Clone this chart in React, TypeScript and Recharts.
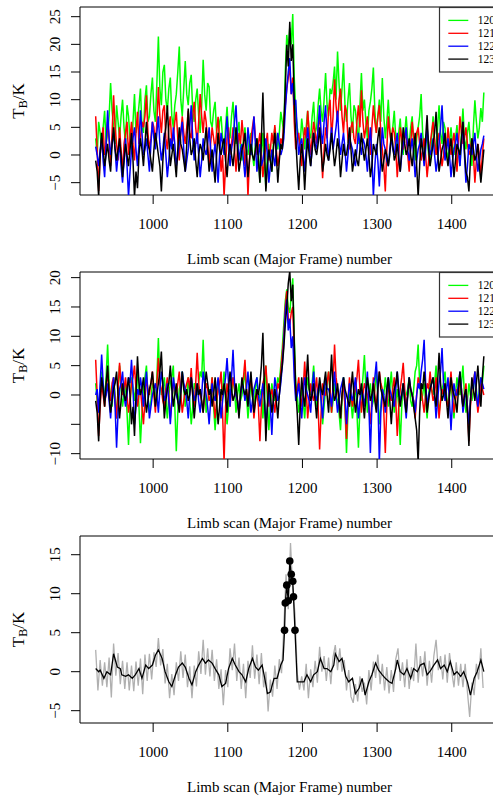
import React from 'react';
import { LineChart, Line, XAxis, YAxis, ReferenceArea, Legend } from 'recharts';

// ---------- categories / ticks ----------
// limb scans sampled every 2nd major frame for the channel panels
const FRAMES = Array.from({ length: 261 }, (_, i) => 923 + 2 * i);
// raw (grey) trace sampled every 3rd major frame
const RAW_FRAMES = Array.from({ length: 174 }, (_, i) => 923 + 3 * i);
const X_TICKS = [1000, 1100, 1200, 1300, 1400];
const Y_TICKS_1 = [-5, 0, 5, 10, 15, 20, 25];
const Y_TICKS_2 = [-10, -5, 0, 5, 10, 15, 20];
const Y_TICKS_3 = [-5, 0, 5, 10, 15];
const CHANNELS = ['120', '121', '122', '123'];

// ---------- panel 1 ----------
const P1_120 = [
  3, 0, 6, 4, 1, 5, 8, 2, 4, 7, 13, 8, 5, 2, 9, 6, 3, 7, 10, 5,
  2, 9, 7, 3, 1, 6, 11, 4, 6, 9, 12, 5, 4, 10, 12.6, 6, 7, 11, 14, 8,
  6, 13, 21.4, 12, 9, 15, 16.3, 10, 8, 12, 14, 7, 5, 9, 11, 15, 19.6, 10, 7, 12,
  17, 11, 9, 13, 14.5, 8, 6, 10, 12, 7, 4, 9, 17.2, 11, 8, 13, 12.3, 6, 5, 8,
  9.6, 4, 2, 6, 7, 3, 1, 5, 8.7, 4, 3, 7, 9.6, 5, 2, 4, 6, 1, -1, 3,
  5, 1, 0, 3, 4, 0, -2, 2, 3, 1, -5, 0, 4, -1, -6, 0, 2, -1, -3, 2,
  5, 3, 1, 4, 7.8, 6, 4, 15, 21.7, 19, 23, 20, 25.5, 14, 8, 5, 3, 2, 6.6, 4,
  1, 5, 8, 4, 3, 7, 9.6, 4, 5, 9, 12, 8, 6, 10, 14.8, 9, 7, 12, 11, 13,
  16, 10, 18.7, 13, 8, 12, 16.6, 9, 6, 10, 13, 7, 4, 9, 8, 5, 2, 9, 14.8, 8,
  10, 6, 3, 8, 9.6, 12, 15.8, 8, 4, 7, 10, 6, 13.9, 7, 3, 6, 10, 5, 2, 5,
  8, 3, 1, 4, 6.6, 2, 0, 4, 7, 3, 2, 5, 7, 2, -1, 3, 5, 7, 11, 4,
  1, 3, 4, 0, -2, 3, 7, 2, 0, 5, 9, 4, 2, 6, 4.8, 1, -1, 2, 5, 2,
  0, 3, 5.4, 1, -2, 4, 8.4, 3, 1, 4, 6, 2, -2, 5, 9.9, 6, 3, 5, 8.5, 6,
  11.3,
];
const P1_121 = [
  7, 1, -6.5, 0, 3, 5, 0, 2, 6, 3, -2, 4, 10.8, 5, 2, -1, 5, 1, -3, 2,
  4, 6, 0, 3, 6, 2, -1, 4, 7.8, 2, 3, 6, 5, 7, 10.8, 4, 1, 3, 6, 5,
  2, 6, 12.3, 7, 4, 8, 9, 3, 1, 5, 7, 2, 3, 6, 7.8, 3, -1, 4, 7, 4,
  2, 5, 8, 4, 3, 7, 9.6, 5, 2, 6, 11, 7, 4, 8, 6, 2, -2, 2, 5, 3,
  1, 4, 6.9, 2, -3, 0, -7.5, -2, 3, 5, 0, 2, 5, 1, -3, 1, 4, 2, 6.3, 3,
  -2, 1, -7.5, -1, 3, 5, 6.9, 3, 0, 2, 4, 0, -4, -1, 2, 4, -1, 1, 4, 2,
  5.4, 1, -2, 0, 3, 2, 6, 9, 12, 14, 16, 11, 14, 6, 1, 3, 4, 1, -2, 2,
  5, 3, 8, 4, 0, 3, 6, 4, 2, 5, 7.5, 2, -4.2, 1, 5, 3, 8, 10, 3, 7,
  13.7, 9, 6, 10, 12, 7, 4, 9, 7.8, 3, 1, 5, 6, 3, 2, 6, 9, 5, 11.7, 6,
  3, 5, 7, 3, 0, 5, 9, 6, 4, 7, 9, 4, 1, -2, -6.6, 1, 7, 4, 2, 5,
  4, 1, -4, 0, 5, 3, 1, 4, 3, 0, -3, 2, 6, 3, 2, 4, 5, 2, -1, 1,
  3, 0, -4, -1, 2, 4, 6, 3, 0, 2, 4, 1, -2, 0, 3, 1, 5, 2, 0, 2,
  4, 1, -3, 2, 7, 4, 2, 3, 5, 2, 0, 1, 3, 0, -5, -1, 2, 0, -4, 0,
  3,
];
const P1_122 = [
  1.5, 0, -2, 1, 3, -1, -4, 2, 8.1, 3, 0, 2, 4, 1, -3, 0, 2, -2, -5, -1,
  3, -2, -7.5, -3, 1, 3, 5, 1, -2, 2, 8.1, 4, 0, 1, 3, 0, -3, 2, 6, 3,
  1, 4, 7, 2, -1, 1, 4, 0, -4, -1, 3, 1, 5, 2, -2, 0, 2, 4, 6, 1,
  -3, -1, 1, 5, 9, 3, -1, 2, 4, 0, -4, -1, 3, 1, 0, 2, 5, 1, -3, 0,
  2, -1, -5, 0, 4, 2, 0, 3, 7, 2, -2, 1, 3, 6, 9, 3, -1, 1, 2, -1,
  -4, 0, 5, 2, 0, 3, 7, 2, -3, 0, 2, -2, -1, 1, 3, 0, -5, -2, 1, 0,
  -2, 1, 4, 2, 0, 1, 3, 8, 12, 15, 17.5, 11, 13, 9, 10, 4, 0, 2, 3, 0,
  -3, 1, 5, 2, -2, 1, 4, 2, 1, 5, 9, 4, 2, 6, 9, 3, -1, 2, 5, 1,
  3, 5, 8, 3, 0, 2, 4, 1, -3, 0, 3, 2, 1, -1, -2, 1, 4, 2, 0, 3,
  2, 0, -3, 1, 5, 0, -7.5, -2, 2, -1, -5.7, 0, 5, 2, 1, -1, -2, 1, 3, 1,
  0, 2, 4, 0, -3, 0, 2, 3, 5, 1, -1, 1, 3, 0, -4, -1, 1, 2, 4, 1,
  -2, 1, 5, 2, 0, 1, 3, 0, -3, -1, 2, 5, 9, 3, -1, 1, 3, 0, -4, -1,
  1, 2, 4, 1, -2, 2, 6, 0, -5, -2, 2, 1, 0, 2, 4, 0, -3, -1, 1, 2,
  3.5,
];
const P1_123 = [
  -1, -3, -7.5, 0, 4, 1, -2, 0, 2, -1, -3, 2, 5, 1, -1, 1, 3, 0, -4, -1,
  2, 0, -2, 1, 4, -1, -7.5, -3, -6, 0, 3, 1, -2, 2, 6, 2, 1, -1, -3, 1,
  4, 2, 0, -2, -6.6, -1, 3, 5, 9, 3, -2, 0, 2, -1, -4, 1, 5, 2, 1, -1,
  -3, 2, 8.4, 3, 0, 1, 3, -1, -4, 0, 2, 1, -1, 2, 5, 1, -3, -1, 1, -2,
  -5, 0, 4, 1, 0, 2, 3, -1, -4, 0, 2, 0, -2, 1, 5, 1, -3, -1, 1, 2,
  4, 0, -4, -1, 2, 0, -1, 1, 3, -1, -5, 3, 11.3, 2, -6.6, -2, 1, -1, -3, 1,
  4, 0, -5, -1, 2, 1, 5, 12, 19.9, 16, 24.1, 17, 20, 10, 3, -2, -6.3, -1, 2, -1,
  -6.3, -1, 3, 0, -2, 1, 4, 1, 0, 2, 5, 1, -3, -1, 2, 0, -1, 1, 4, 1,
  -2, 0, 3, 1, -4, -1, 2, 0, 0, 2, 5, 1, -3, -1, 1, -1, -2, 1, 4, 1,
  -1, 1, 3, 0, -4, -2, 2, 1, 0, 3, 5, 0, -3, -1, 1, 0, -2, 0, 4, 2,
  -1, 0, 2, -1, -3, 1, 5, 2, 0, 1, 3, 0, -2, 1, 4, -2, -7.5, -2, 3, 1,
  -1, 3, 7.2, 1, -2, 0, 2, 4, 7.8, 1, -3, -1, 1, 2, 4, 0, -2, 1, 3, 0,
  -4, -1, 2, 1, 0, 3, 6, 1, -3, -4, -6.6, -1, 3, 1, -1, 0, 2, -2, -5, -2,
  1,
];

// ---------- panel 2 ----------
const P2_120 = [
  2, -1, -3, 1, 4, 2, -1, 3, 8.6, 2, 0, -2, 3, 0, -4, 1, 5, 1, -2, 0,
  2, -3, -8.5, -2, 3, 1, -1, 2, 4, -2, -8.2, -3, 1, 3, 5, 0, -3, -1, 2, 1,
  -1, 3, 9.7, 2, 0, 1, 3, -1, -4, 0, 2, 3, 5, -2, -9.6, -3, 1, 2, 4, 1,
  -2, 0, 3, -1, -5, -2, 2, 1, 0, 2, 4, 3, 9.4, 2, -3, -1, 1, 0, 3, -2,
  -6, -2, 2, 0, -1, 1, 4, -1, -5, -2, 1, 0, 3, 1, -3, 0, 2, -1, 0, 2,
  4, 0, -4, -1, 2, 0, -2, 1, 3, -1, 0, 1, -4, 0, 5, -1, -6, -2, 2, 0,
  -1, 1, 3, 2, 5, 8, 12, 16, 18, 15, 14, 17, 19.9, 10, 2, 0, -3, -1, 1, -1,
  -4, 0, 3, 1, 0, 2, 5, 1, -2, 0, 2, -1, -5, -2, 1, 2, 4, 0, -3, -1,
  2, 0, -1, -3, -6, -1, 3, -2, -9.9, -3, 1, -1, -4, -1, 2, -3, -9, -2, 0, 3,
  6.8, 1, -3, 0, 2, -2, -1, 1, 4, 0, -5, -2, 1, 0, 3, 0, -2, 1, 4, 0,
  -3, -1, 1, -2, -8.5, -2, 2, 0, 0, 1, 3, -1, -2, 1, 4, 5, 8.6, 2, -1, 0,
  2, -1, -4, 0, 3, 1, 0, 2, 5, 0, -3, -1, 1, 2, 4, 0, -2, 0, 2, -1,
  -4, 0, 3, 1, 0, 2, 5, 0, -3, -1, 2, 0, -1, 1, 4, 1, -2, 0, 3, 2,
  5,
];
const P2_121 = [
  6, 0, -7, -2, 2, 0, -2, 1, 4, 1, -1, 2, 3, -1, -4, 1, 5.5, 2, 0, 1,
  3, 0, -3, -1, 2, 3, 5, 1, -2, 0, 1, -2, -5, -1, 3, 1, 0, 2, 4, 0,
  -3, 2, 6.3, 2, 1, -1, -2, 1, 3, 0, -4, -1, 2, 1, 0, 2, 4, 0, -3, -1,
  1, 2, 3, 1, 4.6, 0, -2, 2, 7.2, 2, 0, -1, -3, 0, 2, 1, -1, 0, 3, -1,
  -4, -1, 1, 2, 4, -3, -11.5, -2, 2, 0, -2, 1, 3, 1, 0, -1, -3, 0, 2, 3,
  6, 1, -1, 1, 3, 0, -4, -1, 1, -2, -7.9, -2, 2, 3, 5, 1, -2, 0, 1, -1,
  -3, 0, 2, 1, 4, 7, 10, 15, 17.7, 13, 12, 14, 15, 7, 0, 1, 3, 0, -2, 1,
  5.7, 1, -4, -1, 2, 0, -1, 1, 3, -2, -9.3, -3, 2, 0, 0, 2, 4, 1, -3, 2,
  8.6, 3, 1, -1, -4, 0, 2, -2, -7.5, -1, 3, 0, -2, 0, 1, 3, 6, 1, -3, 0,
  2, 1, 0, -2, -5, -1, 3, 0, -2, 1, 4, 2, 1, -3, -9.9, -2, 2, 0, -1, 1,
  3, -1, -7, -2, 1, 3, 5.5, 1, -2, 0, 2, 1, 0, -1, -4, 0, 3, 2, 1, -1,
  -3, 0, 2, 1, 4, 1, -1, 0, 3, 0, -4, -1, 1, 0, 2, -1, -2, 1, 4, 0,
  -3, -1, 1, 0, 3, 1, -2, 0, 2, -2, -7.9, -2, 1, 2, 4, 0, -3, -1, 2, 1,
  0,
];
const P2_122 = [
  0, 1, -3, 2, 6.9, 2, -1, 0, 2, -1, -4, 0, 3, -2, -9, -3, 1, 2, 4, 0,
  -2, 0, 3, 2, 6, 1, -5, -2, 1, 0, 3, 1, -2, 1, 4, 0, -4, -2, 0, 1,
  2, 0, -3, 1, 4, 2, -1, 0, 2, -1, -5, -1, 3, 1, 0, -1, -2, 1, 4, 2,
  1, -1, -4, 0, 3, 1, -1, 0, 2, -1, -3, 0, 4, 2, 0, -2, -5, -1, 2, 0,
  -1, 1, 3, 0, -4, -1, 1, 3, 6.3, 2, -2, 3, 7.7, 2, 0, -1, -3, 0, 2, 1,
  -1, 1, 4, 0, -3, -1, 1, 2, 3, 0, -2, 0, 2, -1, -5, -2, 1, -2, -6.8, -1,
  3, 1, -1, 0, 2, 5, 9, 14, 16.3, 11, 13, 8, 10, 3, -1, 0, 2, -1, -4, 0,
  3, 1, 0, -1, -3, 1, 4, 0, -1, 1, 2, -1, -4, 0, 3, 1, 1, 0, -2, 1,
  4, 0, -3, -1, 1, 2, 3, 0, -5, -1, 2, 0, -1, 1, 3, 0, -4, -1, 1, 0,
  -2, 1, 4, -2, -9.9, -2, 2, 3, 5.7, 0, -11.5, -3, 1, 0, -3, 0, 3, 1, 0, -1,
  -2, 1, 4, 1, -1, 0, 2, -1, -4, 0, 3, 1, 0, -1, -3, 0, 2, 1, 4, 6,
  9.4, 2, -2, 0, 1, 2, 3, 0, -4, -1, 2, 4, 8, 2, -1, 1, 3, -1, -6, -1,
  2, 0, 0, 2, 4, 1, -3, -1, 1, -2, -5, -1, 2, 1, 4, 0, -2, 1, 3, 2,
  1,
];
const P2_123 = [
  -1, -3, -7.9, -1, 3, 1, -2, 2, 5, 0, -3, -1, 1, 2, 4, 0, -4, -1, 2, 0,
  -1, 1, 3, 0, -5, -2, -7, 0, 6.6, 2, 0, 1, 3, 0, -3, -1, 1, 2, 4, 1,
  -2, 0, 2, 4, 7.4, 1, -4, -1, 1, 2, 5, 1, -2, 0, 2, -1, -3, 0, 4, 1,
  0, 1, -1, 0, 3, 0, -4, -1, 2, 0, 1, -1, -3, 1, 4, 2, 0, 1, -2, 0,
  3, -1, -5, -2, 1, 0, 2, 0, -3, 1, 4, 1, -1, 0, 2, -1, -4, 0, 3, 1,
  0, 1, -2, 1, 4, 0, -3, -1, 1, 0, 2, 5, 10.6, 1, -7.9, -2, 2, 0, -3, -1,
  1, -1, -4, 0, 3, 5, 8, 12, 15, 19, 21.1, 16, 18.8, 9, 1, -3, -8.5, -2, 3, 0,
  -2, 2, 6.9, 1, -1, 0, 2, -1, -4, 0, 3, 1, 0, 2, 4, 0, -3, 2, 6.9, 1,
  -1, 0, 2, -1, -4, 0, 3, 1, 0, -1, -2, 1, 4, 0, -3, -1, 1, 0, 2, -1,
  -4, 0, 3, 1, -1, 0, 2, -1, -3, 1, 4, 1, 0, -1, -2, 1, 3, -1, -5, -1,
  1, 2, 4, 0, -2, 0, 2, -1, -3, 0, 3, 1, 0, -2, -4, -6, -11.5, -3, 2, 1,
  4, 1, -3, -1, 1, 2, 3, 0, -2, 2, 7.2, 2, -1, 0, 2, -1, -4, 0, 3, 1,
  0, -1, -3, 1, 4, 0, -2, 0, 1, -3, -8.7, -1, 3, 1, -1, 2, 5, 1, -2, 3,
  6.6,
];

// ---------- panel 3 ----------
const RAW_VALUES = [
  2.8, -2.4, 1.5, -1.8, 1.2, -2.0, 1.8, -3.3, 3.6, -0.5,
  2.4, -1.6, 1.4, -2.2, 1.2, -2.4, 0.8, -2.5, 1.3, -1.8,
  1.7, -2.9, 2.2, -1.2, 2.3, -1.0, 2.5, 0.6, 4.3, 0.8,
  2.9, -1.5, 1.0, -3.4, -0.3, -3.0, 1.2, -1.2, 2.6, -0.8,
  2.2, -2.0, 0.7, -3.4, 0.8, -1.9, 2.6, -0.3, 4.1, -0.4,
  3.0, -0.6, 2.8, -1.2, 1.6, -2.2, 0.3, -4.3, 0.2, -2.0,
  3.0, 0.2, 3.6, -1.2, 1.8, -2.2, 1.0, -3.4, 1.4, -0.8,
  3.4, -0.9, 2.2, -1.6, 2.4, -2.0, 0.0, -5.1, -1.0, -3.2,
  0.8, -2.2, 1.6, -0.2, 5.5, 12.5, 8.0, 16.5, 10.5, 7.5,
  -0.2, -2.3, -0.6, -2.4, 1.0, -3.4, 0.3, -2.0, 1.4, -1.4,
  3.2, 0.0, 2.0, -1.2, 1.8, -1.6, 1.9, 3.4, 0.2, 3.0,
  0.0, 1.5, -2.4, 0.2, -3.2, -4.0, -1.6, -3.8, -0.6, -2.6,
  -1.4, -4.2, 0.2, -2.4, 1.3, -0.8, 2.2, -1.6, 1.0, -2.4,
  0.6, -2.8, 0.2, -2.6, 1.6, 3.0, -1.2, 1.2, -2.0, 1.6,
  -2.2, 0.6, -1.2, 3.6, -1.4, 2.0, -0.6, 2.6, -1.8, 1.4,
  -1.4, 2.0, 4.1, 0.2, 2.0, -1.0, 2.2, -1.4, 2.4, 0.0,
  -2.0, 1.2, -1.8, 1.0, -2.0, 1.0, -2.6, -5.8, -1.4, -3.0,
  1.0, -1.0, 3.0, -2.1,
];
const SMOOTH_FRAMES = [
  923, 927, 929, 934, 938, 943, 947, 952, 956, 958,
  963, 967, 972, 976, 981, 985, 990, 994, 999, 1003,
  1007, 1012, 1016, 1021, 1025, 1030, 1034, 1039, 1043, 1048,
  1052, 1057, 1061, 1066, 1070, 1074, 1079, 1083, 1088, 1092,
  1097, 1101, 1106, 1110, 1115, 1119, 1124, 1128, 1133, 1137,
  1141, 1146, 1150, 1153, 1157, 1162, 1166, 1171, 1174, 1176,
  1177, 1179, 1181, 1183, 1185, 1187, 1188, 1190, 1193, 1197,
  1202, 1206, 1211, 1215, 1220, 1224, 1229, 1233, 1238, 1242,
  1244, 1249, 1253, 1258, 1262, 1267, 1271, 1276, 1280, 1284,
  1289, 1293, 1298, 1302, 1307, 1311, 1316, 1320, 1325, 1327,
  1331, 1336, 1340, 1345, 1349, 1354, 1358, 1363, 1367, 1372,
  1376, 1381, 1385, 1390, 1394, 1398, 1403, 1407, 1412, 1416,
  1421, 1425, 1430, 1434, 1439, 1443,
];
const SMOOTH_VALUES = [
  0.4, 0, 0.2, -0.85, 0, -0.4, 2.3, 0.6, 0.4, -0.4,
  -0.6, -0.4, -0.85, -0.4, 0.4, -0.85, 0.85, 0.4, 0.85, 2.1,
  2.8, 1.7, 0, -1.3, -1.9, -0.4, 0.6, 1.1, 0.6, -0.85,
  -1.7, 0, 0.85, 1.7, 1.1, 1.5, 1.1, 0.4, -0.4, -1.9,
  -1.5, 0.4, 1.7, 0.85, 0, -0.4, -1.3, 0.4, 1.7, 0.6,
  0.2, 0.85, -1.1, -2.8, -2.6, -0.85, -0.85, 0.85, 1.5, 5.3,
  8.8, 11.1, 9.1, 14.2, 12.5, 11.6, 9.6, 5.3, -1.3, -1.3,
  -1.3, -0.4, -1.3, -0.4, 0, 1.7, 0.4, 0.4, 0, 0.85,
  2.3, 1.3, 1.7, -0.6, -1.3, -0.85, -2.8, -2.1, -0.85, -3.0,
  -1.3, -0.4, 1.1, 0.2, -0.4, -0.85, -1.3, -1.5, 0.4, 1.5,
  0, -0.4, 0.4, -0.85, 0.4, 0, 0.85, 1.1, -0.4, 0.2,
  0.85, 1.5, 0.4, 0.85, 0, 1.3, -0.4, 0, -0.6, 0,
  -1.3, -3, -0.85, 0, 1.5, 0,
];
const DOT_FRAMES = [1176, 1177, 1179, 1181, 1183, 1185, 1187, 1188, 1190];
const DOT_VALUES = [5.3, 8.8, 11.1, 9.1, 14.2, 12.5, 11.6, 9.6, 5.3];

// ---------- tables built from the arrays ----------
const panel1Data = FRAMES.map((f, i) => ({ frame: f, c120: P1_120[i], c121: P1_121[i], c122: P1_122[i], c123: P1_123[i] }));
const panel2Data = FRAMES.map((f, i) => ({ frame: f, c120: P2_120[i], c121: P2_121[i], c122: P2_122[i], c123: P2_123[i] }));
const rawData = RAW_FRAMES.map((f, i) => ({ frame: f, v: RAW_VALUES[i] }));
const smoothData = SMOOTH_FRAMES.map((f, i) => ({ frame: f, v: SMOOTH_VALUES[i] }));
const dotData = DOT_FRAMES.map((f, i) => ({ frame: f, v: DOT_VALUES[i] }));

// ---------- styling ----------
const FONT = "'Liberation Serif', 'Times New Roman', Times, serif";
const CHART_W = 520;
const MARGIN = { top: 7, right: 21, left: 0, bottom: 0 };
const Y_AXIS_W = 80;
const X_AXIS_H = 80;
const X_DOMAIN: [number, number] = [902, 1463.3];
const COLORS = ['#00ff00', '#ff0000', '#0000ff', '#000000'];
const LINE_W = 1.5;

const fmt = (v: number) => (v < 0 ? '\u2212' + Math.abs(v) : String(v));

const xTick = (props: any) => {
  const { x, y, payload } = props;
  return (
    <text x={x} y={y + 25} textAnchor="middle" fontSize={15} fontFamily={FONT} fill="#000">
      {payload.value}
    </text>
  );
};

const makeYTick = (hidden: number[]) => (props: any) => {
  const { x, y, payload } = props;
  if (hidden.includes(payload.value)) return <g />;
  const bx = x - 11;
  return (
    <text x={bx} y={y} transform={`rotate(-90 ${bx} ${y})`} textAnchor="middle" fontSize={15} fontFamily={FONT} fill="#000">
      {fmt(payload.value)}
    </text>
  );
};

const makeXTitle = (plotH: number) => () => (
  <text x={MARGIN.left + Y_AXIS_W + (CHART_W - MARGIN.right - Y_AXIS_W) / 2} y={MARGIN.top + plotH + 69} textAnchor="middle" fontSize={15} fontFamily={FONT} fill="#000">
    Limb scan (Major Frame) number
  </text>
);

const makeYTitle = (plotH: number) => () => {
  const cy = MARGIN.top + plotH / 2;
  return (
    <text x={24} y={cy} transform={`rotate(-90 24 ${cy})`} textAnchor="middle" fontSize={17} fontFamily={FONT} fill="#000">
      T<tspan fontSize={12} dy={3}>B</tspan>
      <tspan fontSize={17} dy={-3}>/K</tspan>
    </text>
  );
};

const renderLegend = (props: any) => {
  const payload = props.payload || [];
  return (
    <svg width={81} height={66} style={{ display: 'block', overflow: 'visible' }}>
      <rect x={0.5} y={0.5} width={120} height={64.5} fill="#fff" stroke="#333" strokeWidth={1.2} />
      {payload.map((p: any, i: number) => {
        const cy = 13.4 + 12.9 * i;
        return (
          <g key={i}>
            <line x1={9.3} x2={29.3} y1={cy} y2={cy} stroke={p.color} strokeWidth={1.3} />
            <text x={38.7} y={cy + 4} fontSize={11.5} fontFamily={FONT} fill="#000">
              {p.value}
            </text>
          </g>
        );
      })}
    </svg>
  );
};

function ChannelPanel({ top, plotH, data, yDomain, yTicks, hiddenY }: any) {
  return (
    <div style={{ position: 'absolute', left: 0, top }}>
      <LineChart width={CHART_W} height={MARGIN.top + plotH + X_AXIS_H} data={data} margin={MARGIN}>
        <XAxis
          dataKey="frame"
          type="number"
          domain={X_DOMAIN}
          ticks={X_TICKS}
          allowDataOverflow
          axisLine={false}
          tickLine={{ stroke: '#000' }}
          tickSize={9}
          tickMargin={0}
          tick={xTick}
          height={X_AXIS_H}
          interval={0}
          label={{ content: makeXTitle(plotH) }}
        />
        <YAxis
          type="number"
          domain={yDomain}
          ticks={yTicks}
          allowDataOverflow
          axisLine={false}
          tickLine={{ stroke: '#000' }}
          tickSize={9}
          tickMargin={0}
          tick={makeYTick(hiddenY)}
          width={Y_AXIS_W}
          interval={0}
          label={{ content: makeYTitle(plotH) }}
        />
        {CHANNELS.map((c, i) => (
          <Line
            key={c}
            type="linear"
            dataKey={'c' + c}
            name={c}
            stroke={COLORS[i]}
            strokeWidth={LINE_W}
            dot={false}
            activeDot={false}
            isAnimationActive={false}
          />
        ))}
        <ReferenceArea x1={X_DOMAIN[0]} x2={X_DOMAIN[1]} y1={yDomain[0]} y2={yDomain[1]} fill="none" fillOpacity={0} stroke="#000" strokeWidth={1} ifOverflow="visible" />
        <Legend
          content={renderLegend}
          layout="horizontal"
          verticalAlign="middle"
          align="center"
          wrapperStyle={{ position: 'absolute', left: 439, top: 7, width: 81, height: 66 }}
        />
      </LineChart>
    </div>
  );
}

function AveragePanel({ top, plotH, yDomain }: any) {
  return (
    <div style={{ position: 'absolute', left: 0, top }}>
      <LineChart width={CHART_W} height={MARGIN.top + plotH + X_AXIS_H} margin={MARGIN}>
        <XAxis
          dataKey="frame"
          type="number"
          domain={X_DOMAIN}
          ticks={X_TICKS}
          allowDataOverflow
          axisLine={false}
          tickLine={{ stroke: '#000' }}
          tickSize={9}
          tickMargin={0}
          tick={xTick}
          height={X_AXIS_H}
          interval={0}
          label={{ content: makeXTitle(plotH) }}
        />
        <YAxis
          type="number"
          domain={yDomain}
          ticks={Y_TICKS_3}
          allowDataOverflow
          axisLine={false}
          tickLine={{ stroke: '#000' }}
          tickSize={9}
          tickMargin={0}
          tick={makeYTick([])}
          width={Y_AXIS_W}
          interval={0}
          label={{ content: makeYTitle(plotH) }}
        />
        <Line data={rawData} type="linear" dataKey="v" name="raw" stroke="#b0b0b0" strokeWidth={1.3} dot={false} activeDot={false} isAnimationActive={false} />
        <Line data={smoothData} type="linear" dataKey="v" name="smooth" stroke="#000" strokeWidth={1.3} dot={false} activeDot={false} isAnimationActive={false} />
        <Line data={dotData} type="linear" dataKey="v" name="peak" stroke="none" dot={{ r: 3.8, fill: '#000', stroke: '#000', strokeWidth: 0 }} activeDot={false} isAnimationActive={false} />
        <ReferenceArea x1={X_DOMAIN[0]} x2={X_DOMAIN[1]} y1={yDomain[0]} y2={yDomain[1]} fill="none" fillOpacity={0} stroke="#000" strokeWidth={1} ifOverflow="visible" />
      </LineChart>
    </div>
  );
}

export default function App() {
  return (
    <div style={{ position: 'absolute', left: 0, top: 0, width: 493, height: 797, overflow: 'hidden', background: '#fff' }}>
      <ChannelPanel top={0} plotH={188} data={panel1Data} yDomain={[-7.23, 26.75]} yTicks={Y_TICKS_1} hiddenY={[]} />
      <ChannelPanel top={265} plotH={187} data={panel2Data} yDomain={[-10.91, 20.96]} yTicks={Y_TICKS_2} hiddenY={[-5]} />
      <AveragePanel top={529} plotH={187} yDomain={[-6.58, 17.4]} />
    </div>
  );
}
